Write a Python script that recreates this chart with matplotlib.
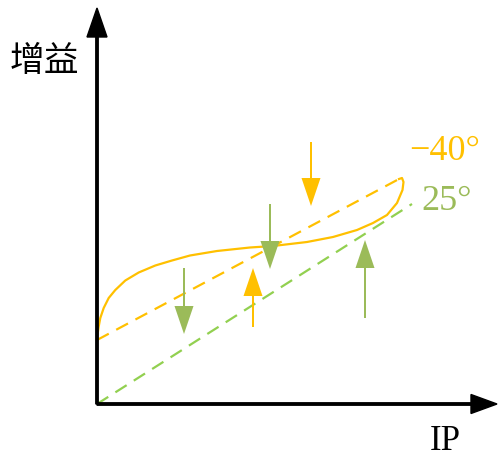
import numpy as np
import matplotlib.pyplot as plt

plt.rcParams['font.family'] = ['Noto Sans CJK SC', 'DejaVu Sans']

ORANGE = "#FFC000"
GREEN = "#9BBB59"
LIGHT_GREEN = "#92D050"

# solid gain curve at -40 degrees
curve_x = [0.00, 0.005, 0.017, 0.033, 0.067, 0.117, 0.183, 0.283, 0.417, 0.583,
           0.75, 0.93, 1.20, 1.53, 1.76, 2.10, 2.36, 2.60, 2.76, 2.90, 3.00,
           3.055, 3.065, 3.05, 3.02]
curve_y = [0.64, 0.69, 0.775, 0.86, 0.96, 1.06, 1.14, 1.235, 1.315, 1.385,
           1.435, 1.485, 1.53, 1.565, 1.58, 1.62, 1.67, 1.74, 1.81, 1.89, 2.01,
           2.14, 2.22, 2.26, 2.25]

# dashed straight lines
cold_x = [0.00, 3.02]
cold_y = [0.64, 2.25]
warm_x = [0.00, 3.15]
warm_y = [0.00, 2.00]

# arrows: x, y start, y end, colour
arrow_x = [2.14, 1.73, 0.87, 1.56, 2.68]
arrow_y0 = [2.62, 2.00, 1.36, 0.77, 0.86]
arrow_y1 = [1.98, 1.35, 0.70, 1.36, 1.64]
arrow_c = [ORANGE, GREEN, GREEN, ORANGE, GREEN]

fig = plt.figure(figsize=(4.98, 4.57), dpi=100)
ax = fig.add_axes([0, 0, 1, 1])
ax.set_xlim(-0.97, 4.01)
ax.set_ylim(-0.53, 4.04)
ax.axis("off")

# axes with arrow heads
ax.arrow(0, 0, 4.00, 0, width=0.024, head_width=0.19, head_length=0.26,
         length_includes_head=True, color="black", zorder=5)
ax.arrow(0, 0, 0, 3.96, width=0.024, head_width=0.20, head_length=0.29,
         length_includes_head=True, color="black", zorder=5)

ax.plot(curve_x, curve_y, color=ORANGE, lw=1.6, solid_joinstyle="round")
ax.plot(cold_x, cold_y, color=ORANGE, lw=1.6, linestyle=(0, (6, 3.8)))
ax.plot(warm_x, warm_y, color=LIGHT_GREEN, lw=1.6, linestyle=(0, (6, 3.8)))

for x, y0, y1, c in zip(arrow_x, arrow_y0, arrow_y1, arrow_c):
    ax.arrow(x, y0, 0, y1 - y0, width=0.02, head_width=0.19, head_length=0.28,
             length_includes_head=True, color=c, lw=0, zorder=4)

ax.text(-0.53, 3.43, "增益", fontsize=25, ha="center", va="center")
ax.text(3.48, -0.37, "IP", fontsize=25, ha="center", va="center",
        family="Liberation Serif")
ax.text(3.48, 2.52, "\u221240°", fontsize=26, ha="center", va="center",
        family="Liberation Serif", color=ORANGE)
ax.text(3.50, 2.02, "25°", fontsize=26, ha="center", va="center",
        family="Liberation Serif", color=GREEN)

fig.savefig("out.png", dpi=100)
